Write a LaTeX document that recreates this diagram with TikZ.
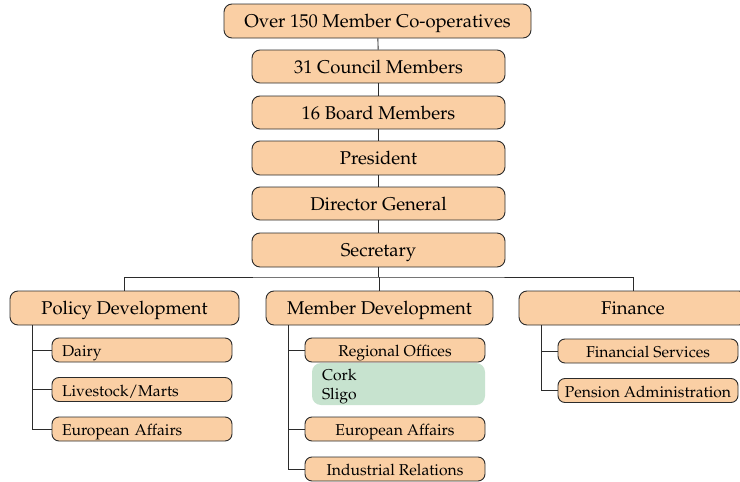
\documentclass[tikz,border=0pt]{standalone}
\usepackage[T1]{fontenc}
\usepackage{mathpazo}
\usepackage{tikz}
\usepackage{xcolor}
\usetikzlibrary{positioning, calc}
\definecolor{boxPeach}{HTML}{FACFA4}
\definecolor{boxGreen}{HTML}{C7E3CF}
\definecolor{lineDark}{HTML}{2B2B2B}

\tikzset{
  mainbox/.style={draw=lineDark, line width=0.9pt, fill=boxPeach, rounded corners=8pt,
    minimum height=34pt, inner sep=0pt, text height=13pt, text depth=0pt,
    font=\fontsize{18.5}{21}\selectfont},
  subbox/.style={draw=lineDark, line width=0.9pt, fill=boxPeach, rounded corners=7pt,
    minimum width=180pt, minimum height=24pt, inner sep=0pt, text height=13pt, text depth=0pt,
    font=\fontsize{15.7}{18}\selectfont},
  leftsub/.style={subbox, text width=160pt, align=left},
  notebox/.style={fill=boxGreen, rounded corners=9pt, minimum width=173pt, minimum height=42pt,
    text width=153pt, align=left, inner sep=0pt, font=\fontsize{15.7}{19}\selectfont},
  link/.style={draw=lineDark, line width=0.9pt},
}

\begin{document}
\begin{tikzpicture}[x=1pt, y=-1pt]
  \useasboundingbox (0,0) rectangle (740,482);
  % chain of command down the middle
  \node[mainbox, minimum width=307pt] (coops) at (377.5,21) {Over 150 Member Co-operatives};
  \node[mainbox, minimum width=253pt, minimum height=33pt] (council) at (378.5,66.5) {31 Council Members};
  \node[mainbox, minimum width=253pt, minimum height=33pt] (board) at (378.5,112.5) {16 Board Members};
  \node[mainbox, minimum width=253pt] (president) at (378.5,158) {President};
  \node[mainbox, minimum width=253pt, minimum height=33pt] (director) at (378.5,203.5) {Director General};
  \node[mainbox, minimum width=253pt] (secretary) at (378.5,250) {Secretary};
  \foreach \a/\b in {coops/council, council/board, board/president, president/director, director/secretary}{
    \draw[link] (\a) -- (\b);
  }

  % departments
  \node[mainbox, minimum width=229pt] (policy) at (124.5,308) {Policy Development};
  \node[mainbox, minimum width=227pt] (member) at (379.5,308) {Member Development};
  \node[mainbox, minimum width=228pt] (finance) at (633,308) {Finance};
  \coordinate (bus) at (378.5,277);
  \draw[link] (secretary) -- (bus);
  \draw[link] (policy.north) |- (bus) -| (finance.north);
  \draw[link] (member.north) -- (member.north |- bus);

  % policy units
  \node[leftsub] (dairy) at (142,350) {Dairy};
  \node[leftsub] (livestock) at (142,389.5) {Livestock/Marts};
  \node[leftsub] (euroPolicy) at (142,429) {European Affairs};
  \coordinate (policyTrunk) at (32,325);
  \foreach \u in {dairy, livestock, euroPolicy}{
    \draw[link] (policyTrunk) |- (\u.west);
  }

  % member units
  \node[subbox] (regional) at (395,350) {Regional Offices};
  \node[notebox] (offices) at (398.5,384) {\rule{0pt}{17pt}Cork\\Sligo};
  \node[subbox] (euroMember) at (395,429) {European Affairs};
  \node[subbox] (industrial) at (395,469) {Industrial Relations};
  \coordinate (memberTrunk) at (288,325);
  \foreach \u in {regional, euroMember, industrial}{
    \draw[link] (memberTrunk) |- (\u.west);
  }

  % finance units
  \node[subbox] (finServices) at (648,351) {Financial Services};
  \node[subbox] (pension) at (648,390.5) {Pension Administration};
  \coordinate (financeTrunk) at (541,325);
  \foreach \u in {finServices, pension}{
    \draw[link] (financeTrunk) |- (\u.west);
  }
\end{tikzpicture}
\end{document}
